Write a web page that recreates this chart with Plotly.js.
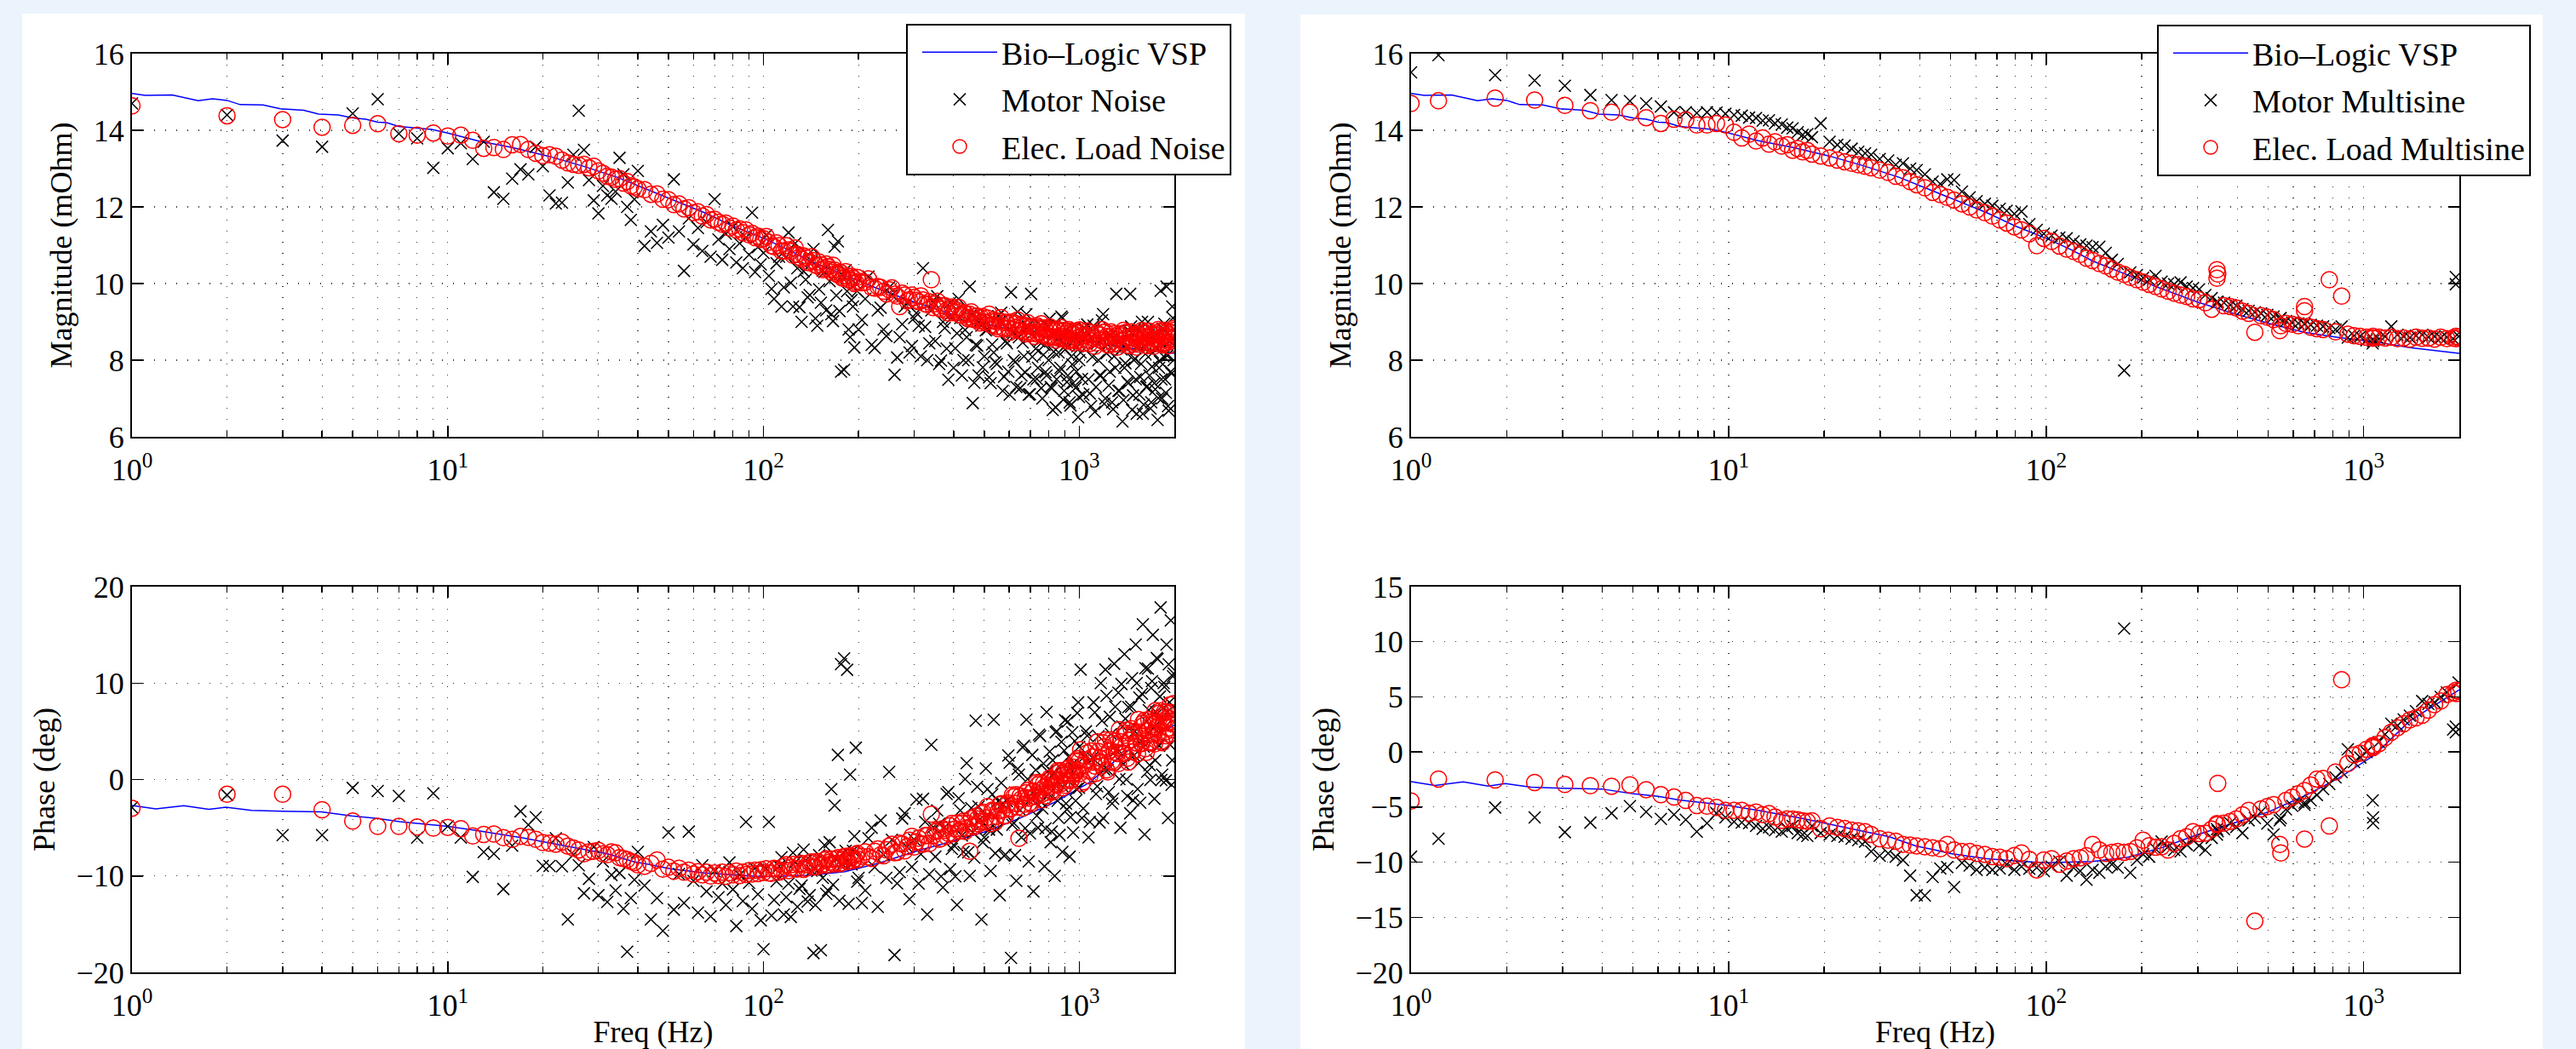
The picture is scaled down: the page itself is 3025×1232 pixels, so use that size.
<!DOCTYPE html>
<html>
<head>
<meta charset="utf-8">
<script src="https://cdn.plot.ly/plotly-3.0.1.min.js"></script>
<style>
html,body{margin:0;padding:0;background:#ebf3fd;}
#chart{width:3025px;height:1232px;}
</style>
</head>
<body>
<div id="chart"></div>
<script>
// ---------------- DATA ----------------
// Bio-Logic VSP reference (same curve in both panels)
const bioFreqMag = [1,1.1,1.34,1.5,1.62,1.8,2.0,2.2,2.6,2.95,
  3.2,3.5,3.9,4.5,5.0,5.5,6.0,6.4,7.0,7.8,
  8.9,10,12.4,16,20.7,26.7,34.5,44.5,53,65,
  80,100,120,140,181,233,301,389,502,649,
  838,1081,1396,2000];
const bioMag = [14.96,14.91,14.92,14.83,14.77,14.82,14.78,14.67,14.66,14.56,
  14.54,14.52,14.42,14.40,14.32,14.29,14.21,14.20,14.10,14.06,
  14.02,13.93,13.73,13.55,13.33,13.07,12.77,12.40,12.14,11.85,
  11.50,11.18,10.88,10.59,10.22,9.85,9.51,9.22,8.96,8.73,
  8.59,8.48,8.33,8.18];
const bioFreqPh = [1,1.19,1.46,1.75,1.98,2.39,2.99,3.98,4.96,6.0,
  7.05,8.0,9.1,10,12.4,17.1,23.4,32.1,39,44.1,
  50.5,65,84,100,140,181,233,301,389,502,
  649,838,1081,1396,2000];
const bioPh = [-2.70,-3.04,-2.72,-3.10,-2.87,-3.20,-3.30,-3.36,-3.77,-4.03,
  -4.37,-4.53,-4.70,-4.86,-5.30,-6.03,-6.86,-7.70,-8.55,-8.85,
  -9.25,-9.68,-9.94,-10.06,-9.94,-9.55,-8.65,-7.49,-6.46,-5.43,
  -4.01,-2.34,-0.28,2.82,5.65];

// Left panel: noise excitation (frequencies in Hz)
const freqL = [1,2,3,4,5,6,7,8,9,10,
  11,12,13,14,15,16,17,18,19,20,
  21,22,23,24,25,26,27,28,29,30,
  31,32,33,34,35,36,37,38,39,40,
  42,44,46,48,50,52,54,56,58,60,
  62,64,66,68,70,72,74,76,78,80,
  82,84,86,88,90,92,94,96,98,100,
  104,108,112,116,120,124,128,132,136,140,
  144,148,152,156,160,164,168,172,176,180,
  184,188,192,196,200,210,220,230,240,250,
  260,270,280,290,300,310,320,330,340,350,
  360,370,380,390,400,410,420,430,440,450,
  460,470,480,490,500,512,524,536,548,560,
  572,584,596,608,620,632,644,656,668,680,
  692,704,716,728,740,752,764,776,788,800,
  812,824,836,848,860,872,884,896,908,920,
  932,944,956,968,980,992,1010,1030,1050,1070,
  1090,1110,1130,1150,1170,1190,1210,1230,1250,1270,
  1290,1310,1330,1350,1370,1390,1410,1430,1450,1470,
  1490,1510,1530,1550,1570,1590,1610,1630,1650,1670,
  1690,1710,1730,1750,1770,1790,1810,1830,1850,1870,
  1890,1910,1930,1950,1970,1990];

const motorMagL = [14.70,14.40,13.73,13.57,14.44,14.81,13.91,13.79,13.02,13.53,
  13.66,13.25,13.70,12.38,12.21,12.74,12.98,12.85,13.57,13.06,
  12.30,12.09,12.11,12.64,13.36,14.51,13.49,12.70,12.17,11.83,
  12.55,12.30,12.21,12.40,13.28,12.85,12.00,11.66,12.20,12.94,
  10.98,11.36,11.06,11.53,11.20,12.72,11.36,10.33,11.70,11.02,
  11.45,10.85,11.60,10.70,12.20,11.15,10.62,11.30,10.90,11.48,
  10.55,11.05,10.40,11.20,10.75,11.85,10.30,10.95,10.50,10.80,
  10.20,9.60,10.70,9.90,11.33,9.40,10.40,9.00,10.10,9.70,
  10.90,8.90,9.50,10.30,11.40,9.20,10.96,11.10,7.70,7.75,
  9.80,8.60,9.40,10.00,8.80,9.60,8.40,9.30,8.80,9.90,
  7.62,8.60,9.40,8.20,9.10,8.90,10.40,8.00,9.30,8.50,
  7.90,9.00,8.30,9.50,7.80,8.70,9.10,8.00,8.60,9.92,
  6.88,8.40,7.60,8.90,8.10,8.80,7.40,8.20,7.90,9.00,
  7.20,8.50,7.70,9.77,8.00,7.30,8.60,7.60,8.10,9.20,
  7.10,9.73,7.50,8.30,7.80,8.90,7.00,8.40,7.60,8.00,
  7.30,6.70,8.70,7.50,8.20,7.80,9.10,7.20,8.40,7.60,
  6.90,8.10,7.40,8.60,7.70,6.51,8.20,7.10,8.60,7.50,
  6.80,8.90,7.30,8.00,7.60,9.20,7.00,8.40,7.70,6.90,
  8.10,9.73,7.20,8.50,6.40,7.80,8.30,7.40,9.73,6.70,
  8.00,7.50,8.80,7.10,7.90,6.60,8.40,7.30,9.00,7.60,
  6.90,8.20,7.40,8.70,6.44,7.80,9.81,7.00,8.10,7.50,
  9.92,6.80,8.50,7.70,9.40,8.00];

const elecMagL = [14.64,14.38,14.28,14.08,14.13,14.17,13.91,13.87,13.93,13.85,
  13.87,13.74,13.53,13.55,13.50,13.62,13.63,13.50,13.40,13.34,
  13.36,13.32,13.22,13.15,13.11,13.09,13.11,13.02,13.06,12.94,
  12.88,12.80,12.78,12.72,12.74,12.62,12.66,12.55,12.52,12.47,
  12.45,12.33,12.34,12.20,12.19,12.06,12.08,11.95,11.98,11.85,
  11.87,11.76,11.80,11.66,11.68,11.60,11.55,11.58,11.45,11.50,
  11.40,11.43,11.33,11.40,11.27,11.31,11.20,11.24,11.15,11.17,
  11.08,10.96,10.99,10.85,10.88,10.74,10.76,10.64,10.68,10.55,
  10.60,10.47,10.49,10.40,10.44,10.30,10.35,10.23,10.28,10.15,
  10.20,10.09,10.14,10.03,10.06,10.03,9.90,9.92,9.80,9.84,
  9.72,9.40,9.70,9.58,9.64,9.52,9.57,9.45,10.10,9.47,
  9.36,9.42,9.30,9.35,9.24,9.30,9.18,9.24,9.12,9.20,
  9.08,9.15,9.03,9.10,9.00,9.10,8.92,9.05,8.88,9.02,
  8.85,8.99,8.84,8.97,8.80,8.95,8.78,8.93,8.75,8.90,
  8.74,8.88,8.70,8.86,8.68,8.85,8.66,8.84,8.64,8.82,
  8.62,8.80,8.60,8.79,8.58,8.78,8.57,8.77,8.55,8.76,
  8.54,8.75,8.52,8.74,8.50,8.73,8.78,8.44,8.64,8.52,
  8.71,8.58,8.45,8.66,8.53,8.73,8.74,8.40,8.61,8.49,
  8.69,8.55,8.42,8.64,8.51,8.71,8.73,8.39,8.60,8.48,
  8.68,8.55,8.42,8.64,8.51,8.71,8.73,8.39,8.60,8.48,
  8.68,8.55,8.43,8.66,8.53,8.74,8.76,8.43,8.64,8.53,
  8.73,8.61,8.48,8.71,8.58,8.78];

const motorPhL = [-2.90,-1.60,-5.76,-5.76,-0.87,-1.20,-1.70,-6.03,-1.43,-4.86,
  -6.03,-10.10,-7.53,-7.70,-11.36,-6.86,-3.30,-4.70,-3.90,-8.96,
  -8.96,-6.10,-9.00,-14.50,-7.80,-8.90,-11.80,-10.30,-7.00,-12.00,
  -8.50,-12.70,-9.90,-11.50,-9.70,-13.40,-17.86,-12.30,-10.40,-7.50,
  -11.00,-14.50,-12.30,-15.70,-5.50,-13.50,-9.80,-12.80,-5.40,-10.50,
  -13.80,-8.90,-11.60,-14.20,-9.50,-12.20,-10.80,-13.00,-8.60,-11.40,
  -15.20,-9.90,-12.60,-4.40,-10.70,-13.40,-9.20,-11.90,-14.60,-17.60,
  -4.40,-12.50,-9.00,-14.00,-10.80,-7.60,-13.20,-11.00,-8.40,-12.00,
  -18.00,-9.50,-17.70,-6.80,-11.50,-1.00,-2.70,2.55,11.97,12.56,
  11.38,0.50,-7.40,3.30,-10.20,-11.50,-5.00,-13.20,-7.80,0.80,
  -18.20,-9.60,-3.50,-12.40,-6.20,-10.80,-2.00,-14.00,3.60,-8.00,
  -4.60,-11.20,-1.50,-9.30,-6.80,-13.00,-3.20,-7.50,1.70,-10.00,
  -5.50,6.10,-2.80,-14.50,-6.00,-1.00,-9.50,6.20,-5.20,-12.00,
  -2.50,-7.80,2.50,-18.50,-4.50,-10.50,0.50,-6.00,3.50,6.20,
  -8.50,-2.00,-11.60,1.00,-5.00,4.50,-3.00,-9.00,7.00,-1.50,
  -6.50,2.00,-10.00,5.00,-4.00,0.00,-7.50,3.00,-2.50,6.00,
  -8.00,1.50,-5.50,4.00,-1.00,8.00,11.40,-3.00,5.00,-6.00,
  2.00,8.00,-1.50,4.50,10.00,-4.00,11.40,1.00,6.50,-2.50,
  12.00,3.00,9.00,-5.00,5.50,13.00,0.00,7.50,-3.50,10.50,
  2.50,14.00,-1.00,8.50,4.00,16.10,-5.70,6.00,11.50,1.50,
  9.50,15.00,-2.00,7.00,12.50,3.50,17.85,0.50,10.00,5.50,
  14.00,-4.00,8.00,16.50,2.00,11.00];

const elecPhL = [-2.97,-1.53,-1.53,-3.13,-4.30,-4.86,-4.86,-4.93,-5.03,-4.96,
  -5.10,-5.86,-5.70,-5.65,-6.03,-6.20,-5.90,-6.00,-6.20,-6.53,
  -6.60,-6.70,-6.50,-6.90,-7.10,-7.30,-7.70,-7.50,-7.45,-7.35,
  -7.70,-7.80,-7.50,-7.60,-8.10,-8.20,-8.30,-8.50,-8.60,-8.85,
  -9.00,-8.70,-8.35,-9.30,-9.10,-9.50,-9.20,-9.60,-9.40,-9.80,
  -9.55,-9.90,-9.60,-10.00,-9.70,-9.95,-9.60,-10.05,-9.65,-9.90,
  -9.50,-9.95,-9.60,-9.85,-9.45,-9.80,-9.40,-9.75,-9.35,-9.65,
  -9.70,-9.20,-9.60,-9.00,-9.45,-8.80,-9.30,-8.70,-9.20,-8.60,
  -9.05,-8.50,-8.95,-8.35,-8.85,-8.25,-8.75,-8.10,-8.65,-8.00,
  -8.50,-7.90,-8.40,-7.80,-8.25,-7.50,-8.20,-7.20,-7.90,-6.90,
  -7.60,-6.60,-7.40,-6.30,-7.00,-6.10,-6.70,-5.80,-3.60,-5.40,
  -6.20,-5.10,-5.90,-4.80,-5.60,-4.50,-5.30,-4.30,-5.00,-7.45,
  -4.80,-3.80,-4.60,-3.50,-4.40,-2.80,-4.58,-3.25,-3.83,-2.60,
  -3.18,-3.76,-2.43,-3.01,-1.78,-1.56,-6.10,-2.01,-2.59,-1.36,
  -1.94,-2.52,-1.19,-1.77,-0.54,-0.32,-2.10,-0.77,-1.35,-0.12,
  -0.70,-1.28,0.05,-0.53,0.70,0.92,-0.86,0.47,-0.11,1.12,
  0.54,-0.04,1.29,0.71,1.94,2.16,3.10,-0.22,2.04,0.88,
  2.96,1.81,0.65,2.91,1.75,3.83,4.11,0.79,3.05,1.89,
  3.97,2.82,1.66,3.92,2.76,4.84,5.12,1.80,4.06,2.90,
  4.98,3.83,2.67,4.93,3.77,5.85,6.13,2.81,5.07,3.91,
  5.99,4.84,3.68,5.94,4.78,6.86,7.14,3.82,6.08,4.92,
  7.00,5.85,4.69,6.95,5.79,7.87];

// Left panel, further noise bins between the ones above (100 Hz - 2 kHz)
const freqLb = [102,106,110,114,118,122,126,130,134,138,
  142,146,150,154,158,162,166,170,174,178,
  182,186,190,194,198,205,215,225,235,245,
  255,265,275,285,295,305,315,325,335,345,
  355,365,375,385,395,405,415,425,435,445,
  455,465,475,485,495,506,518,530,542,554,
  566,578,590,602,614,626,638,650,662,674,
  686,698,710,722,734,746,758,770,782,794,
  806,818,830,842,854,866,878,890,902,914,
  926,938,950,962,974,986,998,1000,1020,1040,
  1060,1080,1100,1120,1140,1160,1180,1200,1220,1240,
  1260,1280,1300,1320,1340,1360,1380,1400,1420,1440,
  1460,1480,1500,1520,1540,1560,1580,1600,1620,1640,
  1660,1680,1700,1720,1740,1760,1780,1800,1820,1840,
  1860,1880,1900,1920,1940,1960,1980];
const motorMagLb = [11.26,9.86,10.53,9.40,10.70,10.02,11.05,9.38,10.32,9.64,
  10.58,9.09,9.85,10.34,9.30,10.06,9.02,9.69,9.28,10.22,
  10.35,8.80,9.57,8.33,9.80,9.05,10.18,8.32,9.37,8.63,
  9.70,8.07,8.94,9.50,8.37,9.23,8.10,8.87,8.44,9.51,
  9.67,7.99,8.84,7.49,9.11,8.31,9.60,7.60,8.79,8.00,
  9.19,7.41,8.38,9.03,7.81,8.78,7.55,8.41,7.95,9.15,
  9.24,7.57,8.44,7.10,8.74,7.95,9.26,7.27,8.46,7.68,
  8.88,7.11,8.09,8.74,7.51,8.49,7.27,8.14,7.69,8.89,
  9.08,7.27,8.22,6.77,8.56,7.71,9.14,6.97,8.28,7.43,
  8.74,6.82,7.89,8.61,7.28,8.36,7.04,8.00,7.51,8.83,
  8.93,7.13,8.09,6.65,8.44,7.60,9.04,6.86,8.18,7.34,
  8.64,6.72,7.80,8.52,7.20,8.28,6.96,7.92,7.44,8.76,
  8.88,7.08,8.04,6.60,8.40,7.56,9.00,6.84,8.16,7.32,
  8.66,6.74,7.83,8.56,7.24,8.33,7.01,7.97,7.50,8.82,
  8.95,7.15,8.12,6.68,8.49,7.65,9.10];
const elecMagLb = [11.23,10.99,11.06,10.85,10.99,10.84,10.93,10.69,10.72,10.55,
  10.70,10.48,10.56,10.36,10.51,10.37,10.48,10.26,10.30,10.14,
  10.31,10.10,10.19,10.00,10.16,10.02,10.12,9.88,9.90,9.73,
  9.89,9.67,9.75,9.55,9.70,9.56,9.68,9.47,9.52,9.37,
  9.54,9.33,9.42,9.23,9.39,9.26,9.38,9.17,9.22,9.08,
  9.26,9.06,9.15,8.97,9.14,8.99,9.20,8.91,9.01,8.82,
  9.11,8.82,8.98,8.73,9.00,8.85,9.05,8.77,8.88,8.69,
  8.98,8.70,8.87,8.62,8.90,8.74,8.95,8.67,8.78,8.59,
  8.87,8.59,8.76,8.52,8.80,8.64,8.85,8.57,8.69,8.50,
  8.80,8.52,8.69,8.45,8.73,8.58,8.79,8.52,8.63,8.45,
  8.76,8.44,8.65,8.36,8.71,8.53,8.80,8.47,8.62,8.40,
  8.74,8.42,8.63,8.34,8.69,8.51,8.78,8.45,8.60,8.38,
  8.74,8.42,8.63,8.34,8.69,8.51,8.78,8.45,8.60,8.38,
  8.76,8.44,8.65,8.36,8.71,8.53,8.80,8.47,8.62,8.40,
  8.78,8.46,8.67,8.38,8.73,8.55,8.82];
const motorPhLb = [-9.25,-14.10,-10.55,-8.05,-12.20,-14.25,-8.60,-11.35,-7.27,-12.65,
  -9.45,-13.03,-7.85,-10.20,-11.85,-6.50,-10.90,-8.30,-12.58,-8.80,
  -7.40,-12.90,-8.80,-5.90,-10.60,-12.80,-6.10,-9.10,-4.25,-10.20,
  -6.25,-10.78,-4.05,-7.00,-9.05,-2.10,-7.75,-4.40,-9.83,-4.95,
  -3.20,-10.05,-4.95,-1.30,-7.20,-10.05,-1.95,-5.80,0.05,-7.55,
  -2.95,-8.10,-0.75,-4.10,-6.50,1.15,-5.20,-1.55,-7.65,-2.25,
  -0.35,-7.90,-2.25,1.75,-4.70,-7.85,1.10,-3.15,3.33,-5.05,
  0.05,-5.58,2.55,-1.15,-3.75,4.65,-2.35,1.65,-5.08,0.85,
  2.90,-5.40,0.65,4.90,-2.20,-5.75,3.90,-0.80,6.15,-3.10,
  2.35,-3.90,4.90,0.75,-2.20,6.90,-0.85,3.40,-4.00,2.40,
  4.55,-4.40,2.25,6.95,-0.70,-4.45,6.10,1.05,8.68,-1.30,
  4.70,-1.98,7.55,3.15,0.05,9.90,1.60,6.30,-1.73,5.25,
  7.55,-2.15,5.00,10.00,1.70,-2.40,8.90,3.40,11.55,0.80,
  7.20,-0.05,10.20,5.40,2.00,12.60,3.60,8.60,-0.05,7.40,
  9.60,-0.10,7.00,11.95,3.60,-0.55,10.70];
const elecPhLb = [-9.24,-9.74,-9.27,-9.44,-8.84,-9.14,-9.26,-8.82,-9.32,-8.85,
  -8.54,-9.04,-8.60,-8.78,-8.22,-8.56,-8.72,-8.26,-8.75,-8.28,
  -7.98,-8.50,-8.04,-8.24,-7.66,-7.96,-8.02,-7.44,-7.82,-7.28,
  -6.70,-7.54,-6.68,-6.96,-5.89,-6.45,-6.64,-5.80,-6.65,-5.82,
  -5.26,-6.11,-5.28,-5.58,-4.55,-5.12,-5.34,-4.52,-5.38,-4.55,
  -4.03,-4.91,-4.08,-4.38,-3.37,-3.98,-4.32,-3.18,-4.42,-3.28,
  -2.52,-3.78,-2.62,-3.08,-1.62,-2.48,-2.85,-1.70,-2.95,-1.85,
  -1.12,-2.38,-1.25,-1.72,-0.30,-1.15,-1.55,-0.42,-1.70,-0.58,
  0.15,-1.15,-0.02,-0.50,0.90,0.00,-0.40,0.70,-0.60,0.50,
  1.20,-0.10,1.00,0.50,1.90,1.00,0.60,1.94,-0.42,1.52,
  2.76,0.38,2.34,1.40,3.90,2.22,1.44,3.40,1.00,2.92,
  4.13,1.74,3.66,2.70,5.17,3.47,2.67,4.60,2.20,4.10,
  5.28,2.86,4.76,3.78,6.22,4.52,3.72,5.62,3.20,5.08,
  6.23,3.81,5.71,4.70,7.12,5.40,4.57,6.44,4.00,5.88,
  7.00,4.54,6.38,5.36,7.74,6.00,5.14];

// Right panel: multisine excitation (frequencies in Hz)
const freqR = [1.0,1.22,1.84,2.45,3.05,3.67,4.28,4.89,5.50,6.12,
  6.73,7.33,7.94,8.55,9.16,9.77,10.4,11.0,11.6,12.2,
  12.8,13.4,14.0,14.7,15.3,15.9,16.5,17.1,17.7,18.3,
  19.5,20.8,22.0,23.2,24.4,25.6,26.9,28.1,29.9,31.8,
  33.6,35.4,37.3,39.1,41.5,43.9,46.4,48.8,51.3,54.3,
  57.4,60.4,64.1,67.7,71.4,75.1,79.4,83.6,88.5,93.4,
  98.3,104,110,116,122,128,134,140,147,154,
  161,168,176,184,193,202,211,221,231,242,
  253,265,277,290,303,317,332,347,363,380,
  397,415,434,454,475,497,520,544,569,595,
  622,651,681,712,745,779,815,852,891,932,
  975,1020,1067,1116,1167,1221,1277,1336,1397,1461,
  1528,1598,1671,1748,1828,1912,1990,345,345,651,
  1950,1950,1070,1070,548];

const motorMagR = [15.51,15.96,15.44,15.30,15.16,14.92,14.79,14.76,14.70,14.62,
  14.47,14.47,14.45,14.47,14.46,14.43,14.40,14.38,14.33,14.32,
  14.25,14.26,14.18,14.15,14.07,14.05,13.95,13.88,13.90,13.82,
  14.18,13.70,13.62,13.60,13.52,13.44,13.40,13.36,13.25,13.21,
  13.10,13.14,13.00,12.96,12.85,12.66,12.60,12.72,12.70,12.40,
  12.25,12.15,12.08,12.03,11.95,11.90,11.82,11.88,11.55,11.40,
  11.30,11.25,11.20,11.18,11.10,11.02,10.99,10.95,10.96,10.80,
  10.62,10.51,7.73,10.29,10.22,10.15,10.10,10.20,10.05,10.00,
  9.98,10.03,9.92,9.88,9.85,9.70,9.62,9.52,9.50,9.44,
  9.42,9.33,9.29,9.25,9.22,9.18,9.14,9.08,9.02,8.98,
  8.96,8.94,8.92,8.90,8.88,8.84,8.80,8.88,8.59,8.64,
  8.62,8.52,8.44,8.55,8.62,8.88,8.66,8.62,8.59,8.64,
  8.66,8.60,8.62,8.58,8.60,8.56,8.62,9.52,9.50,8.95,
  10.17,9.98,8.50,8.55,9.10];

const elecMagR = [14.70,14.77,14.84,14.79,14.65,14.51,14.47,14.47,14.33,14.18,
  14.29,14.27,14.14,14.14,14.18,14.14,13.95,13.80,13.90,13.72,
  13.80,13.64,13.70,13.59,13.62,13.48,13.52,13.44,13.47,13.38,
  13.33,13.28,13.22,13.18,13.14,13.10,13.06,13.02,12.96,12.90,
  12.80,12.76,12.66,12.58,12.50,12.38,12.32,12.25,12.18,12.08,
  12.00,11.92,11.85,11.76,11.66,11.58,11.48,11.40,11.30,10.99,
  11.18,11.10,10.98,10.90,10.84,10.76,10.66,10.60,10.52,10.46,
  10.38,10.30,10.24,10.16,10.10,10.04,9.98,9.92,9.86,9.80,
  9.75,9.70,9.66,9.60,9.58,9.50,9.33,10.25,9.42,9.40,
  9.36,9.28,9.22,8.73,9.16,9.12,9.06,8.77,8.96,8.94,
  8.90,9.40,8.86,8.82,8.80,10.10,8.74,9.67,8.68,8.64,
  8.62,8.60,8.58,8.60,8.58,8.60,8.56,8.58,8.55,8.60,
  8.57,8.58,8.55,8.60,8.56,8.58,8.60,10.36,10.14,9.29,
  8.62,8.56,8.62,8.58,8.90];

const motorPhR = [-9.50,-7.87,-5.04,-5.94,-7.28,-6.41,-5.56,-4.91,-5.43,-6.07,
  -5.68,-6.15,-7.23,-6.46,-5.56,-5.94,-6.33,-6.40,-6.46,-6.71,
  -6.97,-6.84,-7.10,-7.23,-6.97,-6.71,-7.36,-7.50,-7.62,-6.71,
  -7.36,-7.50,-7.62,-7.70,-7.87,-8.00,-8.13,-9.03,-9.42,-9.20,
  -9.50,-9.81,-11.22,-13.00,-13.02,-11.35,-10.58,-10.45,-12.25,-10.06,
  -10.30,-10.70,-10.50,-10.70,-10.58,-10.20,-10.70,-10.40,-10.60,-10.50,
  -10.80,-10.40,-9.94,-11.22,-10.50,-10.80,-11.60,-10.70,-10.96,-10.40,
  -10.20,-10.50,11.19,-10.96,-9.80,-9.29,-9.50,-8.80,-8.13,-8.60,
  -8.90,-9.03,-8.40,-8.00,-8.50,-8.90,-7.80,-7.20,-7.00,-6.46,
  -6.80,-7.36,-6.20,-6.00,-5.43,-6.50,-7.49,-6.20,-5.20,-4.90,
  -4.53,-4.60,-4.40,-3.90,-3.37,-2.90,-2.30,-1.82,0.24,-0.92,
  -0.50,0.00,-4.40,0.90,1.60,2.56,2.40,2.95,3.30,3.70,
  4.62,4.36,4.50,5.00,5.40,2.04,6.30,-7.50,-7.00,-4.80,
  1.79,2.30,-5.94,-6.46,-6.00];

const elecPhR = [-4.45,-2.46,-2.54,-2.77,-2.95,-3.06,-3.11,-2.98,-3.42,-3.88,
  -4.09,-4.40,-4.86,-4.91,-5.04,-5.30,-5.30,-5.30,-5.56,-5.45,
  -5.68,-5.60,-5.89,-6.20,-6.07,-6.10,-6.15,-6.25,-6.30,-6.25,
  -6.97,-6.71,-6.84,-6.95,-7.10,-7.15,-7.23,-7.49,-7.87,-8.00,
  -8.10,-8.39,-8.45,-8.52,-8.60,-8.70,-8.78,-8.39,-8.90,-9.03,
  -9.03,-9.20,-9.29,-9.50,-9.55,-9.68,-9.40,-9.16,-9.75,-10.70,
  -9.80,-9.68,-10.19,-9.90,-9.68,-9.60,-9.42,-8.39,-8.90,-9.20,
  -9.10,-9.03,-9.10,-9.03,-8.70,-8.00,-8.50,-8.65,-8.60,-8.90,
  -8.30,-7.87,-7.70,-7.23,-7.40,-7.36,-7.00,-2.85,-6.46,-6.30,
  -6.07,-5.70,-5.30,-15.35,-5.17,-4.95,-4.78,-8.39,-4.40,-4.10,
  -3.80,-3.50,-3.00,-2.46,-2.40,-6.71,-1.82,6.55,-1.05,-0.27,
  -0.10,0.24,0.50,0.75,1.30,1.79,2.20,2.56,2.90,3.10,
  3.33,3.80,4.30,4.62,5.20,5.39,5.52,-6.50,-6.60,-7.90,
  5.30,5.60,0.60,0.40,-9.16];

// Tick labels
const xTickVals = [1, 10, 100, 1000];
const xTickText = ['10<sup>0</sup>', '10<sup>1</sup>', '10<sup>2</sup>', '10<sup>3</sup>'];
const xMinorVals = [2,3,4,5,6,7,8,9,20,30,40,50,60,70,80,90,200,300,400,500,600,700,800,900,2000];

const nameLine = 'Bio\u2013Logic VSP';
const namesL = ['Motor Noise', 'Elec. Load Noise'];
const namesR = ['Motor Multisine', 'Elec. Load Multisine'];
const yTitles = ['Magnitude (mOhm)', 'Phase (deg)'];
const xTitle = 'Freq (Hz)';

// ---------------- STYLE ----------------
const FONT = 'Liberation Serif, Times New Roman, serif';
const GRID = {showgrid: true, gridcolor: '#3a3a3a', gridwidth: 1.2, griddash: '1px,12px'};

function xAxis(domain, anchor, title) {
  const a = Object.assign({
    type: 'log', range: [0, Math.log10(2000)], domain: domain, anchor: anchor,
    tickmode: 'array', tickvals: xTickVals, ticktext: xTickText,
    ticks: 'inside', ticklen: 13, tickwidth: 1.5, tickcolor: '#000',
    showline: true, linewidth: 2, linecolor: '#000', mirror: 'ticks',
    zeroline: false, automargin: false, ticklabelstandoff: 6,
    tickfont: {family: FONT, size: 36, color: '#000'},
    minor: Object.assign({tickmode: 'array', tickvals: xMinorVals, ticks: 'inside', ticklen: 7,
      tickwidth: 1.5, tickcolor: '#000'}, GRID)
  }, GRID);
  if (title) a.title = {text: title, font: {family: FONT, size: 36, color: '#000'}, standoff: 4};
  return a;
}
function yAxis(domain, anchor, range, dtick, title) {
  return Object.assign({
    range: range, dtick: dtick, tick0: 0, domain: domain, anchor: anchor,
    ticks: 'inside', ticklen: 13, tickwidth: 1.5, tickcolor: '#000',
    showline: true, linewidth: 2, linecolor: '#000', mirror: 'ticks',
    zeroline: false, automargin: false,
    tickfont: {family: FONT, size: 36, color: '#000'},
    title: {text: title, font: {family: FONT, size: 36, color: '#000'}, standoff: 14}
  }, GRID);
}

const lineStyle = {color: '#0000ff', width: 1.5};
const xMarker = {symbol: 'x-thin-open', size: 14, color: '#000', line: {width: 1.5, color: '#000'}};
const oMarker = {symbol: 'circle-open', size: 19, color: '#ff0000', line: {width: 1.5, color: '#ff0000'}};

function panelTraces(xa1, ya1, xa2, ya2, leg, names, freq, motMag, eleMag, motPh, elePh) {
  return [
    {type: 'scatter', mode: 'lines', x: bioFreqMag, y: bioMag, xaxis: xa1, yaxis: ya1,
      name: nameLine, legend: leg, legendgroup: leg + 'a', line: lineStyle},
    {type: 'scatter', mode: 'markers', x: freq, y: motMag, xaxis: xa1, yaxis: ya1,
      name: names[0], legend: leg, legendgroup: leg + 'b', marker: xMarker},
    {type: 'scatter', mode: 'markers', x: freq, y: eleMag, xaxis: xa1, yaxis: ya1,
      name: names[1], legend: leg, legendgroup: leg + 'c', marker: oMarker},
    {type: 'scatter', mode: 'lines', x: bioFreqPh, y: bioPh, xaxis: xa2, yaxis: ya2,
      showlegend: false, line: lineStyle},
    {type: 'scatter', mode: 'markers', x: freq, y: motPh, xaxis: xa2, yaxis: ya2,
      showlegend: false, marker: xMarker},
    {type: 'scatter', mode: 'markers', x: freq, y: elePh, xaxis: xa2, yaxis: ya2,
      showlegend: false, marker: oMarker}
  ];
}

// left panel: both sets of noise bins, concatenated
const freqLall = freqL.concat(freqLb);
const traces = []
  .concat(panelTraces('x', 'y', 'x2', 'y2', 'legend', namesL, freqLall,
    motorMagL.concat(motorMagLb), elecMagL.concat(elecMagLb),
    motorPhL.concat(motorPhLb), elecPhL.concat(elecPhLb)))
  .concat(panelTraces('x3', 'y3', 'x4', 'y4', 'legend2', namesR, freqR, motorMagR, elecMagR, motorPhR, elecPhR));

const W = 3025, H = 1232;
const M = {l: 155, r: 137, t: 63, b: 90};
const PW = W - M.l - M.r, PH = H - M.t - M.b;
const px = v => (v - M.l) / PW;
const py = v => (H - M.b - v) / PH;

const legendBase = {
  bgcolor: '#ffffff', bordercolor: '#000', borderwidth: 2,
  font: {family: FONT, size: 38, color: '#000'},
  xanchor: 'right', yanchor: 'top', tracegroupgap: 3, traceorder: 'grouped',
  itemwidth: 88, indentation: 12
};

const layout = {
  width: W, height: H,
  margin: M,
  paper_bgcolor: '#ebf3fd', plot_bgcolor: '#ffffff',
  showlegend: true,
  font: {family: FONT, size: 36, color: '#000'},
  xaxis: xAxis([0, px(1379)], 'y', null),
  yaxis: yAxis([py(513), 1], 'x', [6, 16], 2, yTitles[0]),
  xaxis2: xAxis([0, px(1379)], 'y2', xTitle),
  yaxis2: yAxis([0, py(689)], 'x2', [-20, 20], 10, yTitles[1]),
  xaxis3: xAxis([px(1657), 1], 'y3', null),
  yaxis3: yAxis([py(513), 1], 'x3', [6, 16], 2, yTitles[0]),
  xaxis4: xAxis([px(1657), 1], 'y4', xTitle),
  yaxis4: yAxis([0, py(689)], 'x4', [-20, 15], 5, yTitles[1]),
  legend: Object.assign({x: px(1446), y: py(28)}, legendBase),
  legend2: Object.assign({x: px(2972), y: py(29)}, legendBase),
  shapes: [
    {type: 'rect', xref: 'paper', yref: 'paper', layer: 'below',
      x0: px(26), x1: px(1462), y0: py(1240), y1: py(16), fillcolor: '#ffffff', line: {width: 0}},
    {type: 'rect', xref: 'paper', yref: 'paper', layer: 'below',
      x0: px(1527), x1: px(2986), y0: py(1240), y1: py(17), fillcolor: '#ffffff', line: {width: 0}}
  ]
};

Plotly.newPlot('chart', traces, layout, {staticPlot: true, displayModeBar: false});
</script>
</body>
</html>
